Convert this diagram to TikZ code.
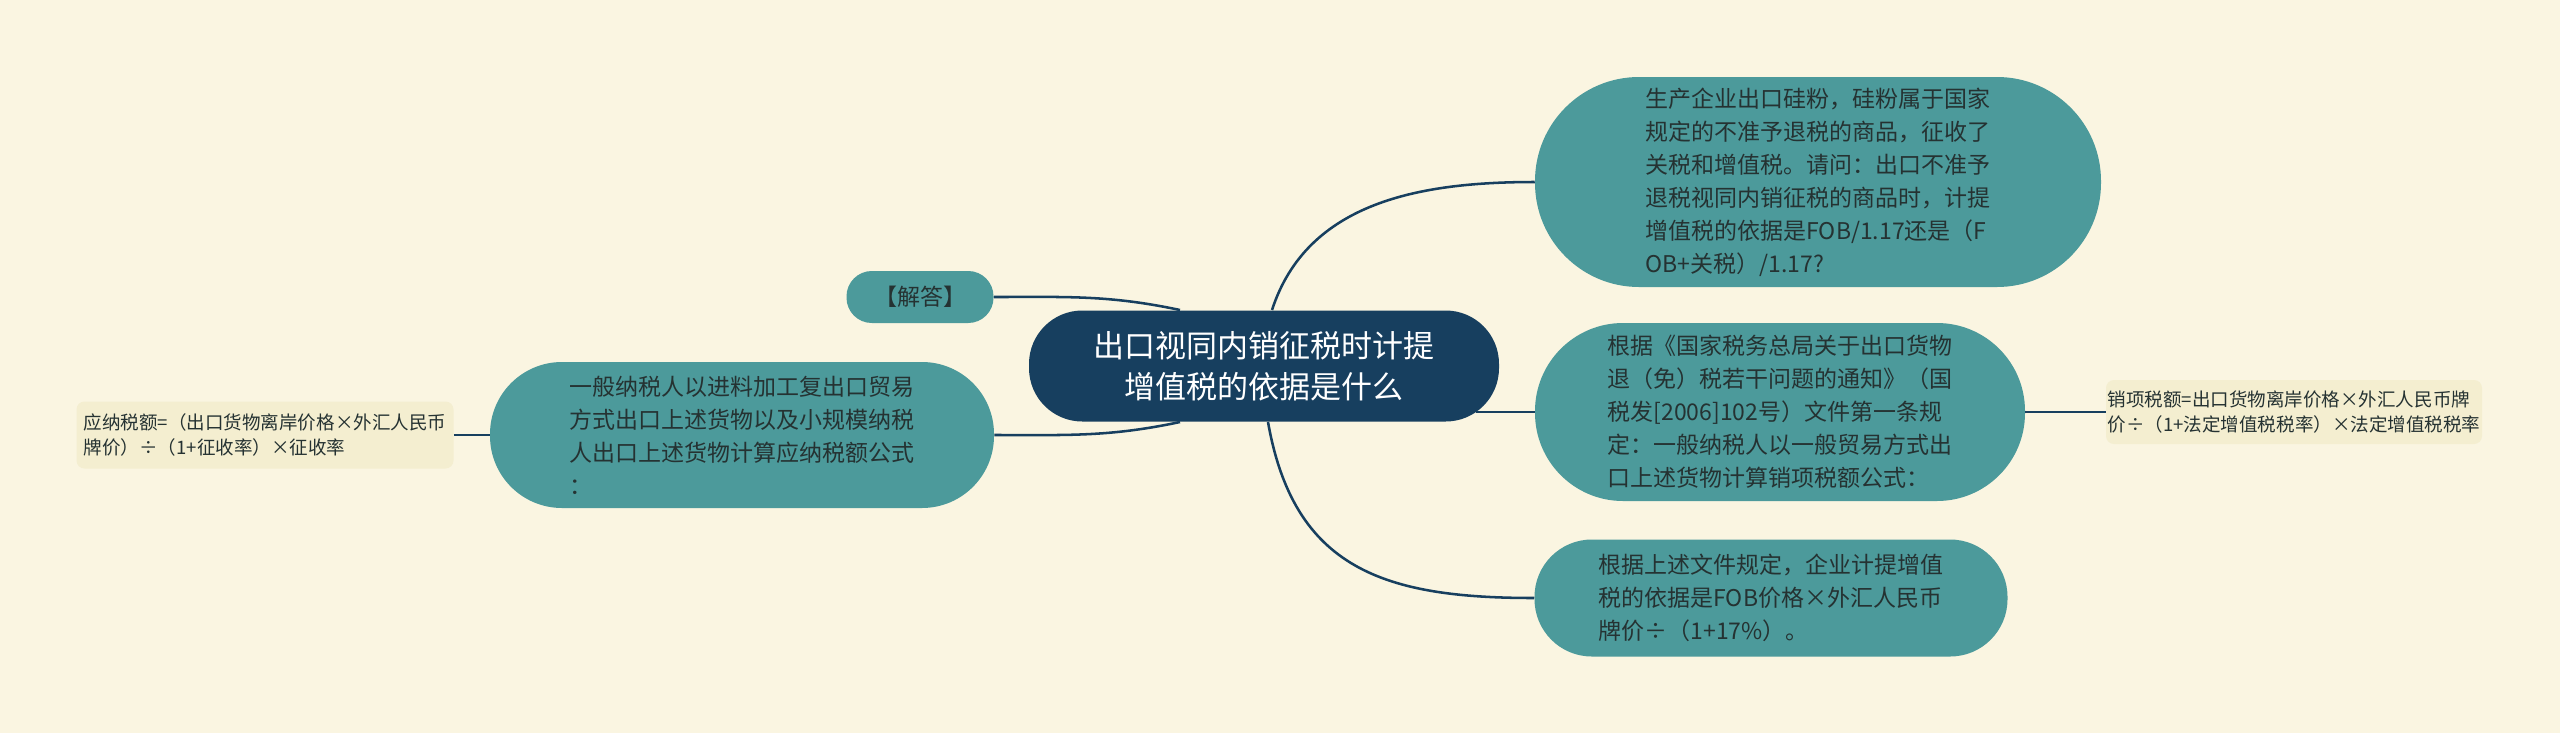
\documentclass[tikz,border=0pt]{standalone}
\usepackage{fontspec}
\setmainfont{Noto Sans CJK SC}
\usetikzlibrary{positioning}
\definecolor{bgcream}{HTML}{FAF5E1}
\definecolor{rootblue}{HTML}{173F5F}
\definecolor{topicteal}{HTML}{4C9A9B}
\definecolor{leafcream}{HTML}{F4EED0}
\definecolor{inkgray}{HTML}{253232}

\begin{document}
\begin{tikzpicture}[x=0.75pt,y=0.75pt,
    root/.style={fill=rootblue,text=white,align=center,inner sep=0pt,
        font=\fontsize{23.25}{30.75}\selectfont},
    topic/.style={fill=topicteal,text=inkgray,align=left,inner sep=0pt,
        font=\fontsize{17.25}{24.75}\selectfont},
    leaf/.style={fill=leafcream,text=inkgray,align=left,inner sep=0pt,
        rounded corners=6pt,minimum width=282pt,minimum height=49pt,
        font=\fontsize{13.9}{18.4}\selectfont},
    link/.style={draw=rootblue,line width=1.9pt}]
            \fill [bgcream] (0,0) rectangle (2560,-733);
            \useasboundingbox (0,0) rectangle (2560,-733);

            % root and first level
            \node [root,rounded corners=40pt,minimum width=352.5pt,minimum height=83.25pt] (root) at (1264,-366) {出口视同内销征税时计提\\增值税的依据是什么};
            \node [topic,align=center,rounded corners=19pt,minimum width=110.25pt,minimum height=39pt] (answer) at (920,-297) {【解答】};
            \node [topic,rounded corners=54pt,minimum width=378pt,minimum height=109.5pt] (general) at (742,-435) {一般纳税人以进料加工复出口贸易\\方式出口上述货物以及小规模纳税\\人出口上述货物计算应纳税额公式\\：};
            \node [topic,rounded corners=78pt,minimum width=424.5pt,minimum height=157.5pt] (question) at (1818,-182) {生产企业出口硅粉，硅粉属于国家\\规定的不准予退税的商品，征收了\\关税和增值税。请问：出口不准予\\退税视同内销征税的商品时，计提\\增值税的依据是FOB/1.17还是（F\\OB+关税）/1.17?};
            \node [topic,rounded corners=66pt,minimum width=367.5pt,minimum height=133.5pt] (notice) at (1780,-412) {根据《国家税务总局关于出口货物\\退（免）税若干问题的通知》（国\\税发[2006]102号）文件第一条规\\定：一般纳税人以一般贸易方式出\\口上述货物计算销项税额公式：};
            \node [topic,rounded corners=43pt,minimum width=354.75pt,minimum height=87.75pt] (basis) at (1771,-598) {根据上述文件规定，企业计提增值\\税的依据是FOB价格×外汇人民币\\牌价÷（1+17\%）。};

            % formulas
            \node [leaf,minimum width=282.75pt,minimum height=50.25pt] (payable) at (265,-435) {应纳税额=（出口货物离岸价格×外汇人民币\\牌价）÷（1+征收率）×征收率};
            \node [leaf,minimum width=282pt,minimum height=48pt] (output) at (2294,-412) {销项税额=出口货物离岸价格×外汇人民币牌\\价÷（1+法定增值税税率）×法定增值税税率};

            % points on the root border
            \coordinate (rootNW) at (1180,-310);
            \coordinate (rootSW) at (1180,-422);
            \coordinate (rootN) at (1272,-310);
            \coordinate (rootS) at (1268,-422);
            \coordinate (rootE) at (1476,-412);

            \draw [link] (answer.east) to[out=0,in=168] (rootNW);
            \draw [link] (general.east) to[out=0,in=192] (rootSW);
            \draw [link] (rootN) to[out=72,in=180] (question.west);
            \draw [link] (rootE) -- (notice.west);
            \draw [link] (rootS) to[out=-80,in=180,looseness=1.2] (basis.west);
            \draw [link] (payable.east) -- (general.west);
            \draw [link] (notice.east) -- (output.west);
        \end{tikzpicture}
\end{document}
